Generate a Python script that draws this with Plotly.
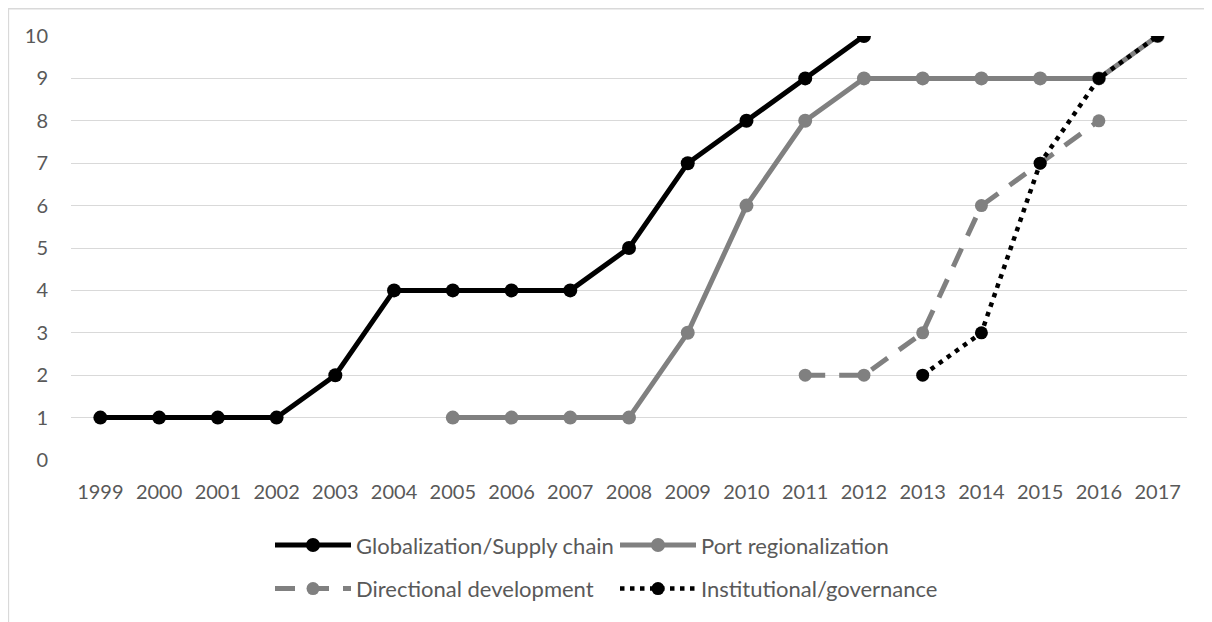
import plotly.graph_objects as go

years = [str(y) for y in range(1999, 2018)]

glob_x = [str(y) for y in range(1999, 2013)]
glob_y = [1, 1, 1, 1, 2, 4, 4, 4, 4, 5, 7, 8, 9, 10]

port_x = [str(y) for y in range(2005, 2018)]
port_y = [1, 1, 1, 1, 3, 6, 8, 9, 9, 9, 9, 9, 10]

dir_x = [str(y) for y in range(2011, 2017)]
dir_y = [2, 2, 3, 6, 7, 8]

inst_x = [str(y) for y in range(2013, 2018)]
inst_y = [2, 3, 7, 9, 10]

FONT = "Lato"
TXT = "#595959"
GRID = "#d9d9d9"
GRAY = "#808080"

W, H = 1204, 614
ML, MR, MT, MB = 63, 25, 28, 158
PW = W - ML - MR
PH = H - MT - MB

fig = go.Figure()
fig.add_trace(go.Scatter(
    x=port_x, y=port_y, name="Port regionalization", legend="legend",
    mode="lines+markers", line=dict(color=GRAY, width=5),
    marker=dict(color=GRAY, size=14, symbol="circle"), legendrank=2))
fig.add_trace(go.Scatter(
    x=dir_x, y=dir_y, name="Directional development", legend="legend2",
    mode="lines+markers", line=dict(color=GRAY, width=5, dash="20px,14px"),
    marker=dict(color=GRAY, size=13, symbol="circle"), legendrank=1))
fig.add_trace(go.Scatter(
    x=glob_x, y=glob_y, name="Globalization/Supply chain", legend="legend",
    mode="lines+markers", line=dict(color="#000000", width=5),
    marker=dict(color="#000000", size=14, symbol="circle"), legendrank=1))
fig.add_trace(go.Scatter(
    x=inst_x, y=inst_y, name="Institutional/governance", legend="legend2",
    mode="lines+markers", line=dict(color="#000000", width=4.5, dash="4.5px,5.5px"),
    marker=dict(color="#000000", size=13, symbol="circle"), legendrank=2))

leg_common = dict(orientation="h", xanchor="left", yanchor="middle",
                  font=dict(family=FONT, size=22, color=TXT),
                  bgcolor="rgba(0,0,0,0)", entrywidth=254, entrywidthmode="pixels",
                  itemwidth=76, traceorder="normal", tracegroupgap=0)

fig.update_layout(
    width=W, height=H,
    margin=dict(l=ML, r=MR, t=MT, b=MB),
    paper_bgcolor="white", plot_bgcolor="white",
    font=dict(family=FONT, size=20, color=TXT),
    showlegend=True,
    legend=dict(x=(262 - ML) / PW, y=-(542 - (MT + PH)) / PH, **leg_common),
    legend2=dict(x=(262 - ML) / PW, y=-(586 - (MT + PH)) / PH, **leg_common),
    xaxis=dict(type="category", categoryorder="array", categoryarray=years,
               range=[-0.5, 18.5], showgrid=False, showline=False, zeroline=False,
               ticks="outside", ticklen=14, tickcolor="rgba(0,0,0,0)",
               tickfont=dict(family=FONT, size=20, color=TXT), fixedrange=True),
    yaxis=dict(range=[0, 10], dtick=1, showgrid=True, gridcolor=GRID, gridwidth=1.3,
               zeroline=False, showline=False,
               ticks="outside", ticklen=18, tickcolor="rgba(0,0,0,0)",
               tickfont=dict(family=FONT, size=20, color=TXT), fixedrange=True),
    shapes=[dict(type="rect", xref="paper", yref="paper",
                 x0=(0.5 - ML) / PW, x1=1.2, y0=-0.6, y1=1 + (MT - 0.5) / PH,
                 line=dict(color=GRID, width=1.3), layer="below")],
)

fig.write_html("out.html")
